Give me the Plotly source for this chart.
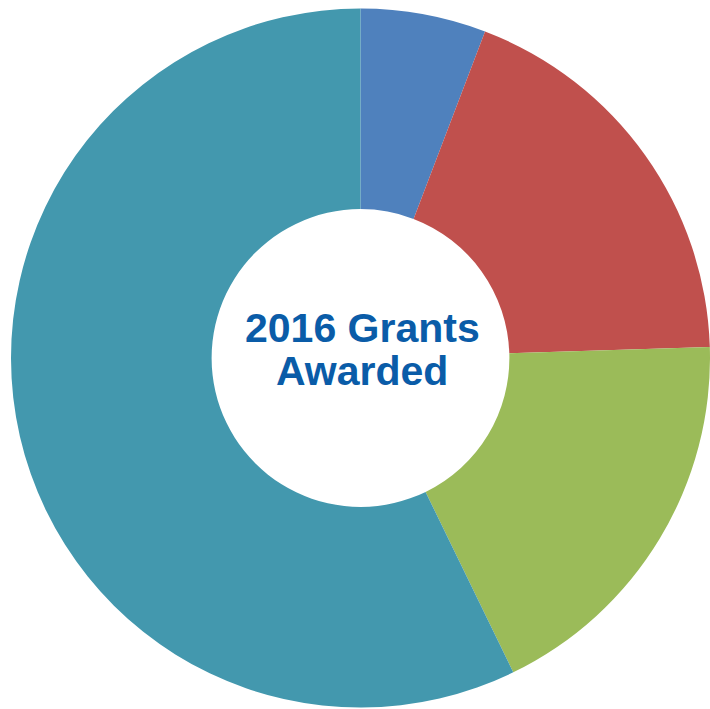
import plotly.graph_objects as go

categories = ["Category A", "Category B", "Category C", "Category D"]
values = [5.8, 18.7, 18.3, 57.2]
colors = ["#4f81bd", "#c0504d", "#9bbb59", "#4398ae"]
title_lines = ["2016 Grants", "Awarded"]

W, H = 710, 709
fig = go.Figure(go.Pie(
    labels=categories,
    values=values,
    sort=False,
    direction="clockwise",
    rotation=0,
    hole=0.426,
    marker=dict(colors=colors, line=dict(width=0)),
    textinfo="none",
    hoverinfo="label+percent",
    showlegend=False,
    domain=dict(x=[11 / W, 1.0], y=[1.5 / H, 1 - 8.5 / H]),
))

for line, py in zip(title_lines, [327.5, 371.0]):
    fig.add_annotation(
        text=f"<b>{line}</b>", x=362 / W, y=1 - py / H,
        xref="paper", yref="paper", xanchor="center", yanchor="middle",
        showarrow=False,
        font=dict(family="Liberation Sans, Arial, sans-serif", size=41, color="#0a5ca8"),
    )

fig.update_layout(
    width=W, height=H,
    margin=dict(l=0, r=0, t=0, b=0),
    paper_bgcolor="white", plot_bgcolor="white",
)
fig.write_html(
    "out.html",
    config={"displayModeBar": False},
    post_script="document.body.style.margin='0';document.body.style.overflow='hidden';",
)
